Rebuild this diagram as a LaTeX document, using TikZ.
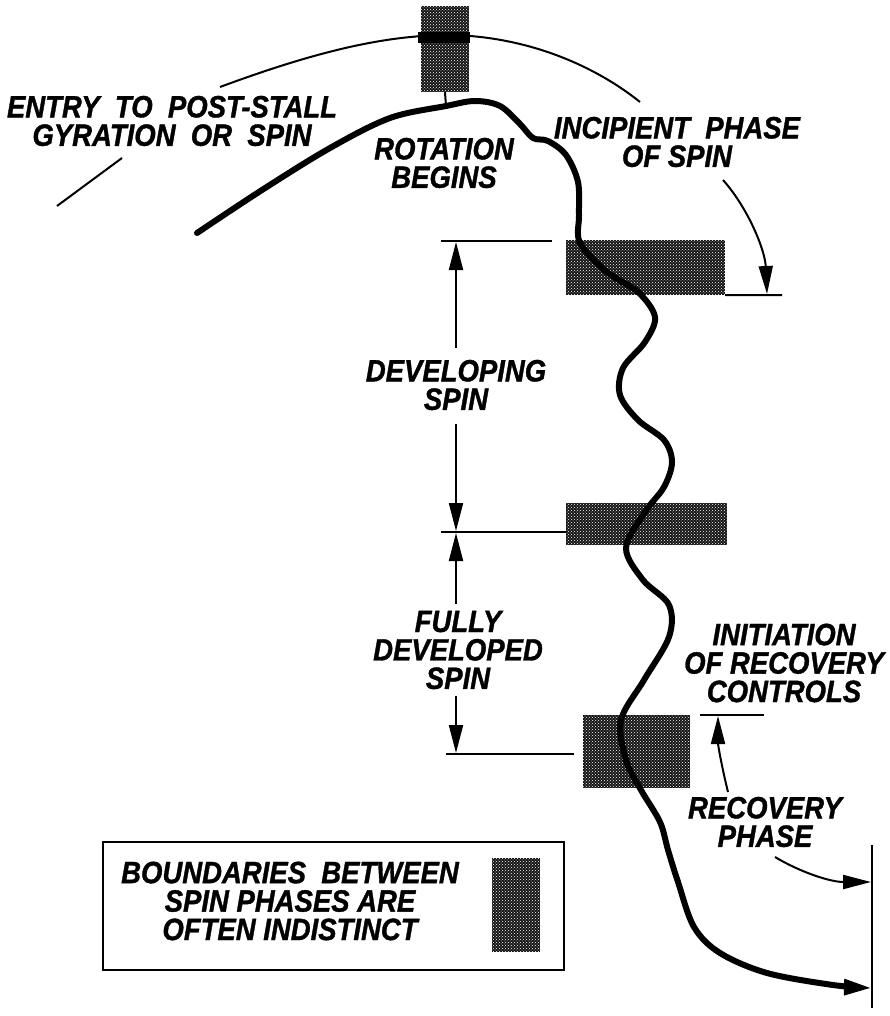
\documentclass[tikz,border=0pt]{standalone}
\usepackage{fontspec}
\setmainfont{Liberation Sans}
\newfontfamily\lblfont{Liberation Sans}[BoldItalicFeatures={FakeBold=1.2}]
\usetikzlibrary{arrows.meta,patterns}
\begin{document}
\begin{tikzpicture}[x=1pt,y=-1pt,
  lbl/.style={font=\lblfont\fontsize{27.5}{25.4}\selectfont\bfseries\itshape, align=center, inner sep=0pt, yscale=1.12, transform shape},
  shadebox/.style={draw=none, fill=black!92, inner sep=0pt, postaction={pattern=crosshatch dots, pattern color=white}},
  thin/.style={line width=2pt},
  spin/.style={line width=6pt, line cap=round, line join=round},
  tip/.style={-{Triangle[length=28pt,width=14pt]}},
  tipb/.style={{Triangle[length=28pt,width=14pt]}-},
]
\useasboundingbox (0,0) rectangle (889,1016);

% shaded boundary boxes
\node[shadebox, minimum width=48pt, minimum height=86pt] (b0) at (445,49) {};
\node[shadebox, minimum width=159pt, minimum height=55pt] (b1) at (645.5,267.5) {};
\node[shadebox, minimum width=161pt, minimum height=42pt] (b2) at (646.5,524) {};
\node[shadebox, minimum width=107pt, minimum height=73pt] (b3) at (636.5,751.5) {};
\fill[black] (418,32) rectangle (470,43);

% entry arc over the top
\coordinate (arcA) at (220,87);
\coordinate (arcB) at (640,102);
\draw[thin] (arcA) .. controls (320,50) and (385,36) .. (445,35)
  .. controls (520,35) and (590,62) .. (arcB);
\coordinate (rotpt) at (446,106);
\draw[thin] (b0.south) -- (rotpt);

% main spin path
\draw[spin, -{Triangle[length=28pt,width=15pt]}] plot[smooth, tension=0.55] coordinates {
 (197,233) (262,190) (330,148) (390,118) (446,106) (475,101) (500,106) (520,124)
 (533,138) (548,141) (566,155) (578,182) (579,215) (580,243) (607,272) (638,292)
 (655,317) (645,342) (623,368) (620,395) (638,420) (664,440) (672,462) (664,487)
 (645,512) (626,548) (643,580) (669,605) (669,637) (644,680) (621,720) (626,760)
 (641,790) (660,822) (668,850) (678,882) (694,927) (720,953) (767,973) (833,985) (872,988)};

% labels
\node[lbl] (entry) at (172,121) {ENTRY \ TO \ POST-STALL\\GYRATION \ OR \ SPIN};
\coordinate (entA) at (122,158);
\coordinate (entB) at (57,206);
\draw[thin] (entA) -- (entB);

\node[lbl] (rot) at (444,163) {ROTATION\\BEGINS};
\node[lbl] (inc) at (677,142) {INCIPIENT \ PHASE\\OF SPIN};

% incipient marker
\coordinate (incR) at (782,295);
\draw[thin] (b1.south east) -- (incR);
\coordinate (incS) at (723,180);
\coordinate (incT) at (767,294);
\draw[thin, tip] (incS) .. controls (748,208) and (765,250) .. (incT);

% dimension lines
\coordinate (d1L) at (441,241);
\coordinate (d1R) at (552,241);
\draw[thin] (d1L) -- (d1R);
\coordinate (d2L) at (441,532);
\draw[thin] (d2L) -- (b2.west |- d2L);
\coordinate (d3L) at (446,754);
\coordinate (d3R) at (574,754);
\draw[thin] (d3L) -- (d3R);

\node[lbl] (dev) at (456,385) {DEVELOPING\\SPIN};
\coordinate (devU1) at (456,242);
\coordinate (devU2) at (456,348);
\coordinate (devD1) at (456,424);
\coordinate (devD2) at (456,531);
\draw[thin, tipb] (devU1) -- (devU2);
\draw[thin, tip] (devD1) -- (devD2);

\node[lbl] (full) at (458,650) {FULLY\\DEVELOPED\\SPIN};
\coordinate (fU1) at (456,533);
\coordinate (fU2) at (456,604);
\coordinate (fD1) at (456,696);
\coordinate (fD2) at (456,753);
\draw[thin, tipb] (fU1) -- (fU2);
\draw[thin, tip] (fD1) -- (fD2);

% recovery
\node[lbl] (init) at (784,663) {INITIATION\\OF RECOVERY\\CONTROLS};
\coordinate (iL) at (700,715);
\coordinate (iR) at (764,715);
\draw[thin] (iL) -- (iR);
\coordinate (iS) at (728,792);
\coordinate (iT) at (718,716);
\draw[thin, tip] (iS) .. controls (722,768) and (718,745) .. (iT);

\node[lbl] (rec) at (765,822) {RECOVERY\\PHASE};
\coordinate (vT) at (872,845);
\coordinate (vB) at (872,1008);
\draw[thin] (vT) -- (vB);
\coordinate (rS) at (775,857);
\coordinate (rT) at (871,882);
\draw[thin, tip] (rS) .. controls (800,872) and (830,882) .. (rT);

% legend
\node[draw, line width=2pt, minimum width=461pt, minimum height=128pt, inner sep=0pt] (legend) at (333.5,906) {};
\node[lbl] (legtxt) at (290,901) {BOUNDARIES \ BETWEEN\\SPIN PHASES ARE\\OFTEN INDISTINCT};
\node[shadebox, minimum width=48pt, minimum height=94pt] (swatch) at (516,905) {};
\end{tikzpicture}
\end{document}
